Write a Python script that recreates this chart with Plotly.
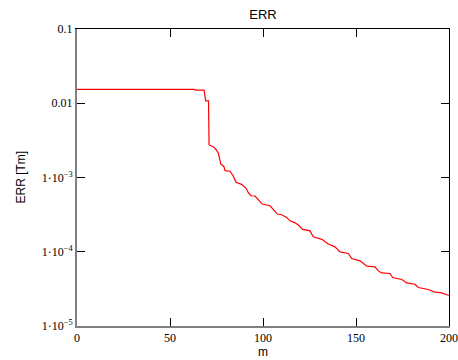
import plotly.graph_objects as go

m_vals = [0, 63, 63.5, 68.3, 69.2, 70.7, 71.0, 73.3, 74.6, 76.0, 77.3, 79.0, 79.6, 82.3, 84.0,
          85.5, 88.5, 90.9, 92.1, 93.5, 95.7, 97.5, 99.6, 103.8, 105.9, 107.7, 110.1, 112.7,
          114.5, 117.2, 119.0, 121.3, 125.3, 127.0, 131.6, 135.1, 138.7, 141.4, 145.9, 147.7,
          152.2, 154.8, 155.8, 160.2, 162.0, 163.8, 168.3, 169.7, 174.6, 177.3, 181.7, 183.5,
          188.9, 191.9, 196.1, 200]
err_vals = [0.0154, 0.0154, 0.0150, 0.0150, 0.01077, 0.01077, 0.002745, 0.002604, 0.002402,
            0.002121, 0.001521, 0.001398, 0.001235, 0.001213, 0.001047, 0.000861, 0.000809,
            0.000715, 0.000624, 0.000568, 0.000563, 0.000508, 0.000439, 0.000416, 0.000356,
            0.000322, 0.000315, 0.000290, 0.000261, 0.000245, 0.000229, 0.000200, 0.000191,
            0.000159, 0.000147, 0.000127, 0.0001165, 0.0000997, 0.0000949, 0.0000812,
            0.0000754, 0.0000680, 0.0000639, 0.0000626, 0.0000552, 0.0000519, 0.0000510,
            0.0000450, 0.0000423, 0.0000380, 0.0000365, 0.0000330, 0.0000310, 0.0000288,
            0.0000279, 0.0000257]

x_ticks = [0, 50, 100, 150, 200]
y_ticks = [1e-5, 1e-4, 1e-3, 1e-2, 1e-1]
y_tick_text = ["1·10<sup>−5</sup>", "1·10<sup>−4</sup>", "1·10<sup>−3</sup>", "0.01", "0.1"]

serif = "Liberation Serif"
sans = "Liberation Sans"

W, H = 458, 360
l, r, t, b = 77, 9, 29, 34
pw, ph = W - l - r, H - t - b

fig = go.Figure()
fig.add_trace(go.Scatter(x=m_vals, y=err_vals, mode="lines",
                         line=dict(color="#ff0000", width=1.2), showlegend=False))
fig.add_trace(go.Scatter(x=[0, 200], y=[1e-5, 0.1], mode="markers", xaxis="x2", yaxis="y2",
                         marker=dict(opacity=0), showlegend=False, hoverinfo="skip"))

fig.update_layout(
    width=W, height=H,
    margin=dict(l=l, r=r, t=t, b=b, autoexpand=False),
    paper_bgcolor="white", plot_bgcolor="white",
    title=dict(text="ERR", x=(263) / W, xanchor="center", y=1 - 14 / H, yanchor="middle",
               font=dict(family=sans, size=13, color="black")),
    xaxis=dict(range=[0, 200], tickvals=x_ticks, ticks="inside", ticklen=8, tickcolor="black",
               showline=True, linecolor="#808080", linewidth=2, showgrid=False, zeroline=False,
               automargin=False,
               tickfont=dict(family=serif, size=12, color="black")),
    yaxis=dict(type="log", range=[-5, -1], tickvals=y_ticks, ticktext=y_tick_text,
               ticks="inside", ticklen=8, tickcolor="black", automargin=False,
               showline=True, linecolor="#808080", linewidth=2, showgrid=False, zeroline=False,
               tickfont=dict(family=serif, size=12, color="black")),
    xaxis2=dict(range=[0, 200], tickvals=x_ticks, overlaying="x", side="top", ticks="inside",
                ticklen=8, tickcolor="black", showticklabels=False, showline=True,
                linecolor="black", linewidth=1, showgrid=False, zeroline=False),
    yaxis2=dict(type="log", range=[-5, -1], tickvals=y_ticks, overlaying="y", side="right",
                ticks="inside", ticklen=8, tickcolor="black", showticklabels=False,
                showline=True, linecolor="black", linewidth=1, showgrid=False, zeroline=False),
    annotations=[
        dict(text="ERR [Tm]", x=(20 - l) / pw, y=(H - b - 177.5) / ph, xref="paper",
             yref="paper", showarrow=False, textangle=-90, xanchor="center", yanchor="middle",
             font=dict(family=sans, size=12, color="black")),
        dict(text="m", x=(263 - l) / pw, y=(H - b - 352) / ph, xref="paper", yref="paper",
             showarrow=False, xanchor="center", yanchor="middle",
             font=dict(family=sans, size=12, color="black")),
    ],
)

fig.write_html("out.html")
